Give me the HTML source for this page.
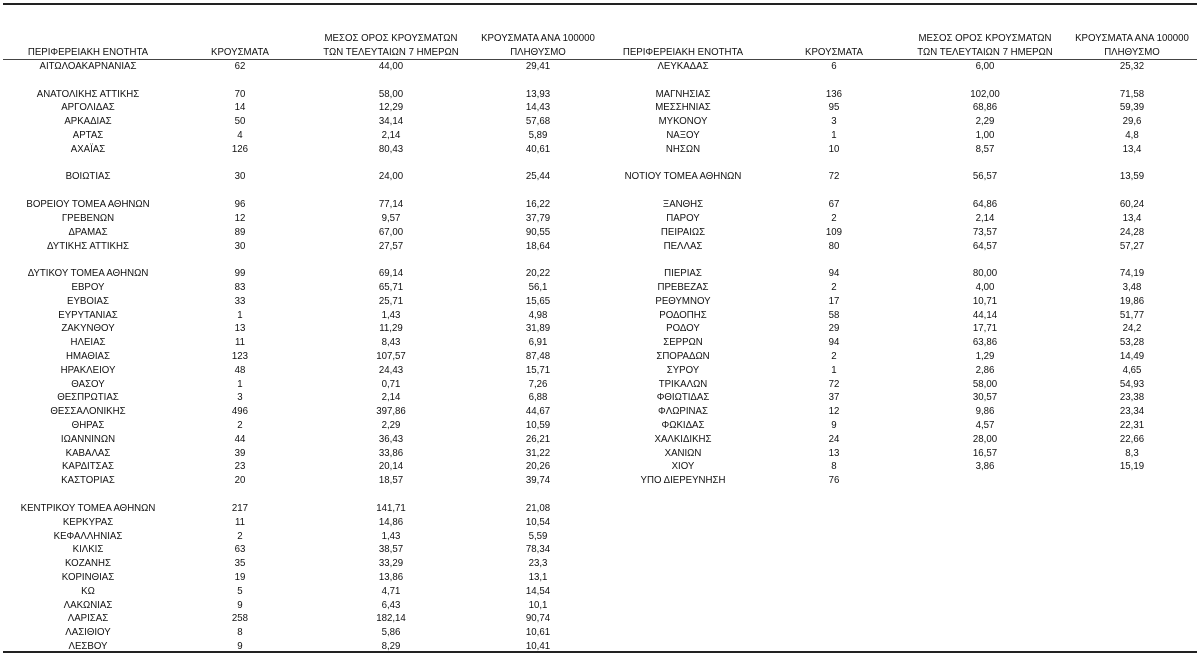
<!DOCTYPE html>
<html><head><meta charset="utf-8"><style>
body{margin:0;width:1200px;height:668px;background:#fff;position:relative;overflow:hidden;font-family:"Liberation Sans","DejaVu Sans",sans-serif;color:#111}
.t{position:absolute;font-size:10.5px;line-height:12px;white-space:nowrap;transform:translate(-50%,-50%) scaleX(.92)}
.l{position:absolute;left:3px;width:1194px;background:#222}
</style></head><body>
<div class="l" style="top:3px;height:2px"></div>
<div class="l" style="top:59px;height:1px;background:#444"></div>
<div class="l" style="top:651px;height:2px"></div>
<div id="c"></div>
<script>
const L=[["ΑΙΤΩΛΟΑΚΑΡΝΑΝΙΑΣ","62","44,00","29,41"],null,["ΑΝΑΤΟΛΙΚΗΣ ΑΤΤΙΚΗΣ","70","58,00","13,93"],["ΑΡΓΟΛΙΔΑΣ","14","12,29","14,43"],["ΑΡΚΑΔΙΑΣ","50","34,14","57,68"],["ΑΡΤΑΣ","4","2,14","5,89"],["ΑΧΑΪΑΣ","126","80,43","40,61"],null,["ΒΟΙΩΤΙΑΣ","30","24,00","25,44"],null,["ΒΟΡΕΙΟΥ ΤΟΜΕΑ ΑΘΗΝΩΝ","96","77,14","16,22"],["ΓΡΕΒΕΝΩΝ","12","9,57","37,79"],["ΔΡΑΜΑΣ","89","67,00","90,55"],["ΔΥΤΙΚΗΣ ΑΤΤΙΚΗΣ","30","27,57","18,64"],null,["ΔΥΤΙΚΟΥ ΤΟΜΕΑ ΑΘΗΝΩΝ","99","69,14","20,22"],["ΕΒΡΟΥ","83","65,71","56,1"],["ΕΥΒΟΙΑΣ","33","25,71","15,65"],["ΕΥΡΥΤΑΝΙΑΣ","1","1,43","4,98"],["ΖΑΚΥΝΘΟΥ","13","11,29","31,89"],["ΗΛΕΙΑΣ","11","8,43","6,91"],["ΗΜΑΘΙΑΣ","123","107,57","87,48"],["ΗΡΑΚΛΕΙΟΥ","48","24,43","15,71"],["ΘΑΣΟΥ","1","0,71","7,26"],["ΘΕΣΠΡΩΤΙΑΣ","3","2,14","6,88"],["ΘΕΣΣΑΛΟΝΙΚΗΣ","496","397,86","44,67"],["ΘΗΡΑΣ","2","2,29","10,59"],["ΙΩΑΝΝΙΝΩΝ","44","36,43","26,21"],["ΚΑΒΑΛΑΣ","39","33,86","31,22"],["ΚΑΡΔΙΤΣΑΣ","23","20,14","20,26"],["ΚΑΣΤΟΡΙΑΣ","20","18,57","39,74"],null,["ΚΕΝΤΡΙΚΟΥ ΤΟΜΕΑ ΑΘΗΝΩΝ","217","141,71","21,08"],["ΚΕΡΚΥΡΑΣ","11","14,86","10,54"],["ΚΕΦΑΛΛΗΝΙΑΣ","2","1,43","5,59"],["ΚΙΛΚΙΣ","63","38,57","78,34"],["ΚΟΖΑΝΗΣ","35","33,29","23,3"],["ΚΟΡΙΝΘΙΑΣ","19","13,86","13,1"],["ΚΩ","5","4,71","14,54"],["ΛΑΚΩΝΙΑΣ","9","6,43","10,1"],["ΛΑΡΙΣΑΣ","258","182,14","90,74"],["ΛΑΣΙΘΙΟΥ","8","5,86","10,61"],["ΛΕΣΒΟΥ","9","8,29","10,41"]];
const R=[["ΛΕΥΚΑΔΑΣ","6","6,00","25,32"],null,["ΜΑΓΝΗΣΙΑΣ","136","102,00","71,58"],["ΜΕΣΣΗΝΙΑΣ","95","68,86","59,39"],["ΜΥΚΟΝΟΥ","3","2,29","29,6"],["ΝΑΞΟΥ","1","1,00","4,8"],["ΝΗΣΩΝ","10","8,57","13,4"],null,["ΝΟΤΙΟΥ ΤΟΜΕΑ ΑΘΗΝΩΝ","72","56,57","13,59"],null,["ΞΑΝΘΗΣ","67","64,86","60,24"],["ΠΑΡΟΥ","2","2,14","13,4"],["ΠΕΙΡΑΙΩΣ","109","73,57","24,28"],["ΠΕΛΛΑΣ","80","64,57","57,27"],null,["ΠΙΕΡΙΑΣ","94","80,00","74,19"],["ΠΡΕΒΕΖΑΣ","2","4,00","3,48"],["ΡΕΘΥΜΝΟΥ","17","10,71","19,86"],["ΡΟΔΟΠΗΣ","58","44,14","51,77"],["ΡΟΔΟΥ","29","17,71","24,2"],["ΣΕΡΡΩΝ","94","63,86","53,28"],["ΣΠΟΡΑΔΩΝ","2","1,29","14,49"],["ΣΥΡΟΥ","1","2,86","4,65"],["ΤΡΙΚΑΛΩΝ","72","58,00","54,93"],["ΦΘΙΩΤΙΔΑΣ","37","30,57","23,38"],["ΦΛΩΡΙΝΑΣ","12","9,86","23,34"],["ΦΩΚΙΔΑΣ","9","4,57","22,31"],["ΧΑΛΚΙΔΙΚΗΣ","24","28,00","22,66"],["ΧΑΝΙΩΝ","13","16,57","8,3"],["ΧΙΟΥ","8","3,86","15,19"],["ΥΠΟ ΔΙΕΡΕΥΝΗΣΗ","76","",""]];
let h="";
function t(x,y,s){h+=`<div class="t" style="left:${x}px;top:${y}px">${s}</div>`;}
function side(d,xs){
 t(xs[0],52,"ΠΕΡΙΦΕΡΕΙΑΚΗ ΕΝΟΤΗΤΑ");t(xs[1],52,"ΚΡΟΥΣΜΑΤΑ");
 t(xs[2],38,"ΜΕΣΟΣ ΟΡΟΣ ΚΡΟΥΣΜΑΤΩΝ");t(xs[2],52,"ΤΩΝ ΤΕΛΕΥΤΑΙΩΝ 7 ΗΜΕΡΩΝ");
 t(xs[3],38,"ΚΡΟΥΣΜΑΤΑ ΑΝΑ 100000");t(xs[3],52,"ΠΛΗΘΥΣΜΟ");
 d.forEach((r,i)=>{if(!r)return;const y=66+i*13.81;r.forEach((v,j)=>{if(v)t(xs[j],y,v)});});
}
side(L,[88,240,391,538]);side(R,[683,834,985,1132]);
document.getElementById("c").innerHTML=h;
</script>
</body></html>
